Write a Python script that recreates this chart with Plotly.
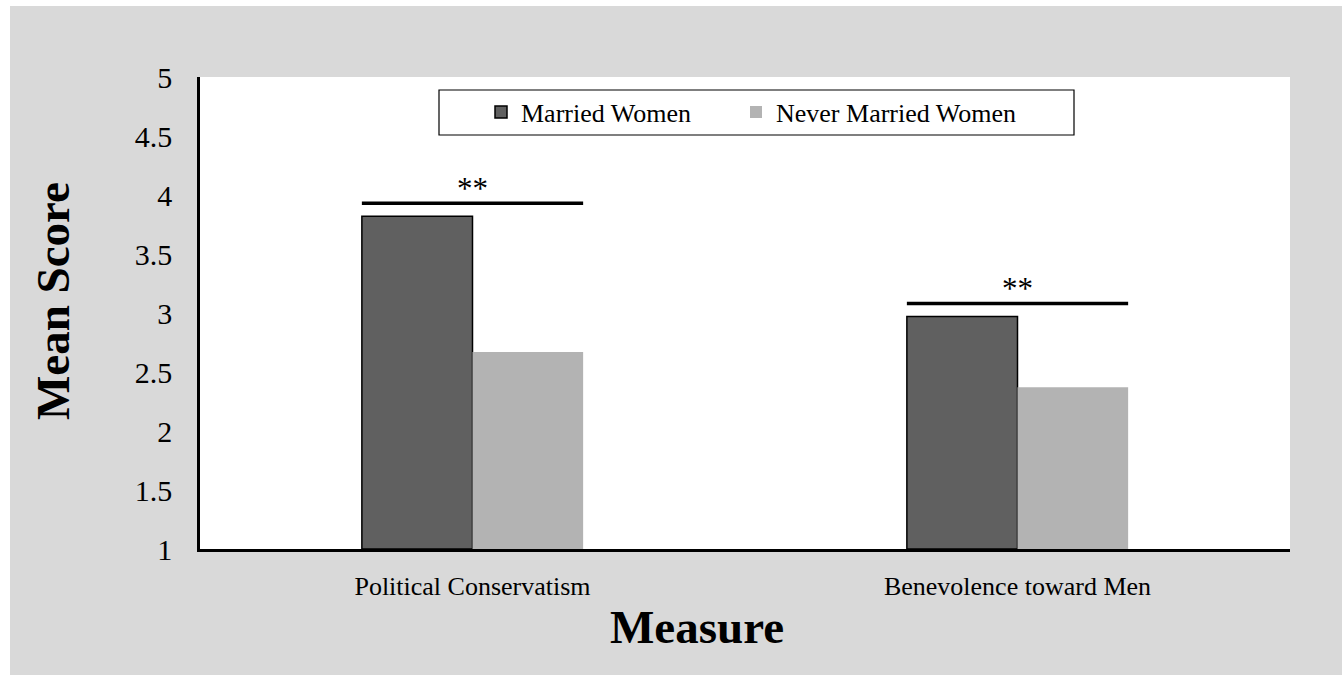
import plotly.graph_objects as go

categories = ["Political Conservatism", "Benevolence toward Men"]
married = [3.82, 2.97]
never_married = [2.67, 2.37]
series_names = ["Married Women", "Never Married Women"]
sig_labels = ["**", "**"]
y_ticks = [1, 1.5, 2, 2.5, 3, 3.5, 4, 4.5, 5]
y_ticktext = ["1", "1.5", "2", "2.5", "3", "3.5", "4", "4.5", "5"]

FONT = "Liberation Serif"
W, H = 1342, 675
L, R, T, B = 200, 52, 77, 126
pw, ph = W - L - R, H - T - B


def px_x(p):
    return (p - L) / pw


def px_y(p):
    return (H - B - p) / ph


fig = go.Figure()
fig.add_trace(go.Bar(
    x=categories, y=[v - 1 for v in married], base=1, name=series_names[0],
    marker=dict(color="#606060", line=dict(color="black", width=1.5)),
    legend="legend",
))
fig.add_trace(go.Bar(
    x=categories, y=[v - 1 for v in never_married], base=1, name=series_names[1],
    marker=dict(color="#b3b3b3", line=dict(width=0)),
    legend="legend2",
))

bargap = 0.594
half = (1 - bargap) / 2
shapes = []
annotations = []
for i, cat in enumerate(categories):
    top = max(married[i], never_married[i]) + 0.11
    shapes.append(dict(type="line", xref="x", yref="y", x0=i - half, x1=i + half,
                       y0=top, y1=top, line=dict(color="black", width=3.5)))
    annotations.append(dict(x=i, y=top, xref="x", yref="y", text=sig_labels[i],
                            showarrow=False, yanchor="middle", yshift=15,
                            font=dict(family=FONT, size=31, color="black")))

# white strips outside gray panel
shapes.append(dict(type="rect", xref="paper", yref="paper", x0=px_x(-5), x1=px_x(10),
                   y0=px_y(H + 5), y1=px_y(-5), fillcolor="white", line=dict(width=0), layer="above"))
shapes.append(dict(type="rect", xref="paper", yref="paper", x0=px_x(-5), x1=px_x(W + 5),
                   y0=px_y(6), y1=px_y(-5), fillcolor="white", line=dict(width=0), layer="above"))
# legend box
shapes.append(dict(type="rect", xref="paper", yref="paper", x0=px_x(439), x1=px_x(1074),
                   y0=px_y(135), y1=px_y(90), fillcolor="rgba(0,0,0,0)",
                   line=dict(color="black", width=1.2), layer="above"))

annotations.append(dict(x=px_x(53), y=px_y(301), xref="paper", yref="paper", text="<b>Mean Score</b>",
                        textangle=-90, showarrow=False, xanchor="center", yanchor="middle",
                        font=dict(family=FONT, size=47, color="black")))
annotations.append(dict(x=px_x(697), y=px_y(627), xref="paper", yref="paper", text="<b>Measure</b>",
                        showarrow=False, xanchor="center", yanchor="middle",
                        font=dict(family=FONT, size=47, color="black")))

leg_common = dict(orientation="h", xanchor="left", yanchor="middle", y=px_y(112),
                  bgcolor="rgba(0,0,0,0)", borderwidth=0,
                  font=dict(family=FONT, size=26, color="black"), itemwidth=30)

fig.update_layout(
    width=W, height=H,
    margin=dict(l=L, r=R, t=T, b=B, pad=0),
    paper_bgcolor="#d9d9d9", plot_bgcolor="white",
    barmode="group", bargap=bargap, bargroupgap=0,
    font=dict(family=FONT, size=26, color="black"),
    showlegend=True,
    legend=dict(x=px_x(481), **leg_common),
    legend2=dict(x=px_x(736), **leg_common),
    shapes=shapes, annotations=annotations,
)
fig.update_xaxes(showline=True, linecolor="black", linewidth=3, showgrid=False,
                 ticks="outside", ticklen=12, tickcolor="rgba(0,0,0,0)",
                 tickfont=dict(family=FONT, size=26), fixedrange=True)
fig.update_yaxes(range=[1, 5], tickvals=y_ticks, ticktext=y_ticktext, showline=True,
                 linecolor="black", linewidth=2.5, showgrid=False, zeroline=False,
                 ticks="outside", ticklen=19, tickcolor="rgba(0,0,0,0)",
                 tickfont=dict(family=FONT, size=30), fixedrange=True)

fig.write_html("out.html")
